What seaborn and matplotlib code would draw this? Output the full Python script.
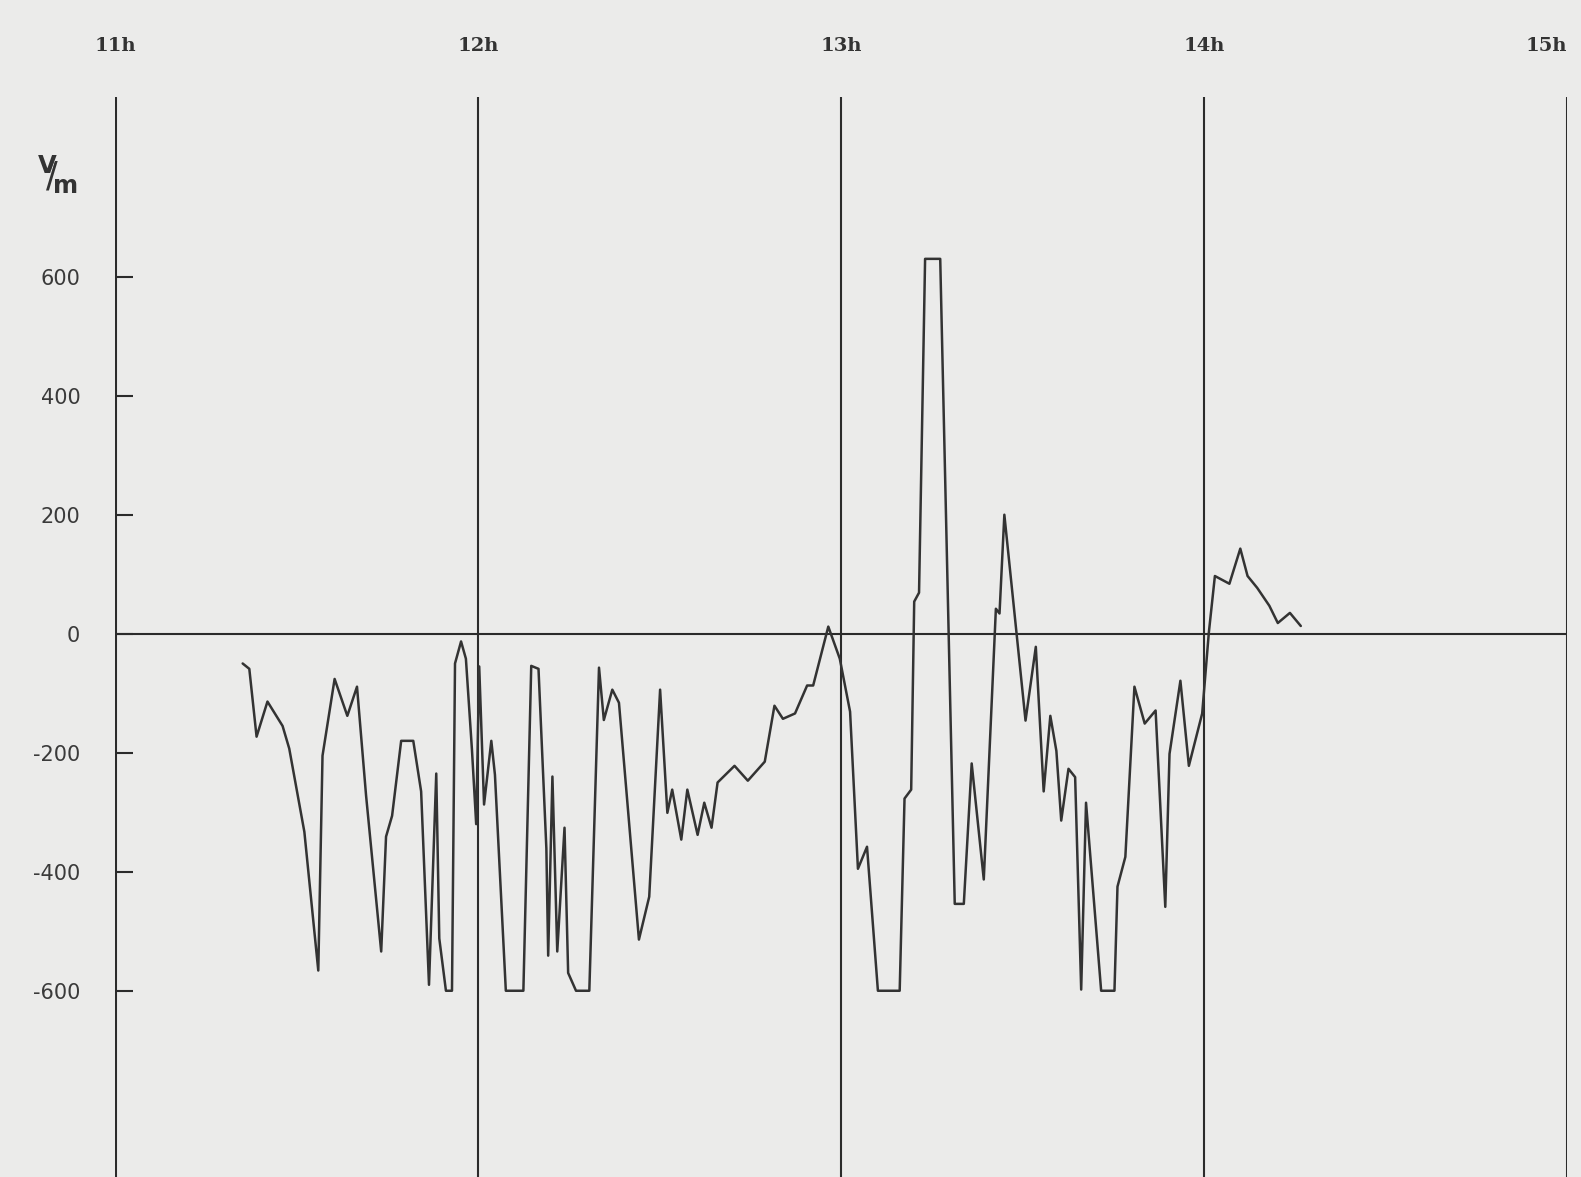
import numpy as np
import pandas as pd
import matplotlib
matplotlib.use('Agg')
import matplotlib.pyplot as plt
import seaborn as sns

# Potential gradient record, minutes after 11h and V/m
minutes = [21.1, 22.2, 23.4, 25.2, 27.7, 28.8, 31.3, 33.6, 34.3, 36.3,
           38.4, 40.0, 41.5, 44.0, 44.8, 45.8, 47.3, 49.3, 50.6, 51.9,
           53.1, 53.6, 54.7, 55.7, 56.2, 57.2, 58.0, 59.0, 59.7, 60.2,
           61.0, 62.2, 62.8, 64.6, 67.5, 68.8, 70.0, 71.3, 71.6, 72.3,
           73.1, 74.3, 74.9, 76.2, 78.4, 80.0, 80.8, 82.2, 83.3, 86.6,
           88.3, 90.1, 91.3, 92.1, 93.6, 94.6, 96.3, 97.4, 98.6, 99.6,
           102.4, 104.6, 107.4, 109.0, 110.4, 112.4, 114.4, 115.4, 117.9, 119.8,
           121.5, 122.8, 124.3, 126.1, 129.7, 130.5, 131.6, 132.1, 132.9, 133.9,
           136.4, 138.8, 140.3, 141.6, 143.6, 145.6, 146.2, 147.0, 150.5, 152.2,
           153.5, 154.6, 155.6, 156.4, 157.6, 158.7, 159.7, 160.5, 163.0, 165.2,
           165.7, 167.0, 168.5, 170.2, 172.0, 173.6, 174.3, 176.1, 177.5, 179.7,
           180.8, 181.8, 184.2, 186.0, 187.2, 188.8, 190.8, 192.2, 194.2, 196.0]

values = [-50, -59, -173, -114, -155, -193, -333, -566, -205, -76,
          -138, -89, -272, -534, -341, -306, -180, -180, -265, -590,
          -235, -512, -600, -600, -50, -13, -42, -195, -320, -55,
          -287, -180, -237, -600, -600, -54, -59, -361, -541, -240,
          -534, -326, -570, -600, -600, -57, -145, -94, -116, -514,
          -442, -94, -301, -262, -346, -262, -338, -284, -326, -250,
          -222, -247, -215, -121, -143, -134, -87, -87, 12, -42,
          -131, -395, -358, -600, -600, -277, -262, 54, 69, 630,
          630, -454, -454, -218, -413, 42, 34, 200, -146, -22,
          -265, -138, -197, -314, -227, -241, -598, -284, -600, -600,
          -425, -375, -89, -151, -129, -459, -202, -79, -222, -134,
          2, 97, 84, 143, 97, 77, 47, 18, 35, 13]

hour_ticks = [11, 12, 13, 14, 15]
hour_labels = ['11h', '12h', '13h', '14h', '15h']
y_ticks = [600, 400, 200, 0, -200, -400, -600]
y_labels = ['600', '400', '200', '0', '-200', '-400', '-600']

df = pd.DataFrame({'minutes': minutes, 'value': values})
df['hour'] = 11 + df['minutes'] / 60.0

sns.set_theme(style='white')
plt.rcParams['font.family'] = ['DejaVu Sans']

paper = '#ebebea'
ink = '#2b2b2b'

fig = plt.figure(figsize=(15.81, 11.77), dpi=100)
fig.patch.set_facecolor(paper)
ax = fig.add_axes([115 / 1581, 0.0, (1567 - 115) / 1581, (1177 - 97) / 1177])
ax.set_facecolor(paper)

# hour grid and zero line
for h in hour_ticks:
    lw = 2.2 if h in (11, 15) else 1.5
    ax.axvline(h, color=ink, linewidth=lw, zorder=1)
ax.axhline(0, color=ink, linewidth=1.5, zorder=1)

sns.lineplot(data=df, x='hour', y='value', ax=ax, sort=False, estimator=None,
             color='#333333', linewidth=1.8, zorder=3)

ax.set_xlim(11, 15)
ax.set_ylim(-913, 902)
for s in ax.spines.values():
    s.set_visible(False)

ax.set_xticks(hour_ticks, labels=hour_labels)
ax.xaxis.tick_top()
ax.tick_params(axis='x', length=0, pad=30)
xlabels = ax.get_xticklabels()
for t in xlabels:
    t.set_fontfamily('DejaVu Serif')
    t.set_fontweight('bold')
    t.set_fontsize(14)
    t.set_color('#333333')
# last label sits at the right edge of the sheet
xlabels[-1].set_horizontalalignment('right')
xlabels[-1].set_x(15.0)

ax.set_yticks(y_ticks, labels=y_labels)
ax.tick_params(axis='y', direction='in', length=13, width=1.5, color=ink,
               pad=25, labelsize=15, labelcolor='#3a3a3a', left=True)
ax.set_xlabel('')
ax.set_ylabel('')

# unit label
fig.text(57 / 1581, 1 - 175 / 1177, r'$^{\mathbf{V}}\!\!/\!_{\mathbf{m}}$',
         fontsize=25, color='#333333', ha='center', va='center')

fig.savefig('out.png', dpi=100, facecolor=paper)
plt.close(fig)
